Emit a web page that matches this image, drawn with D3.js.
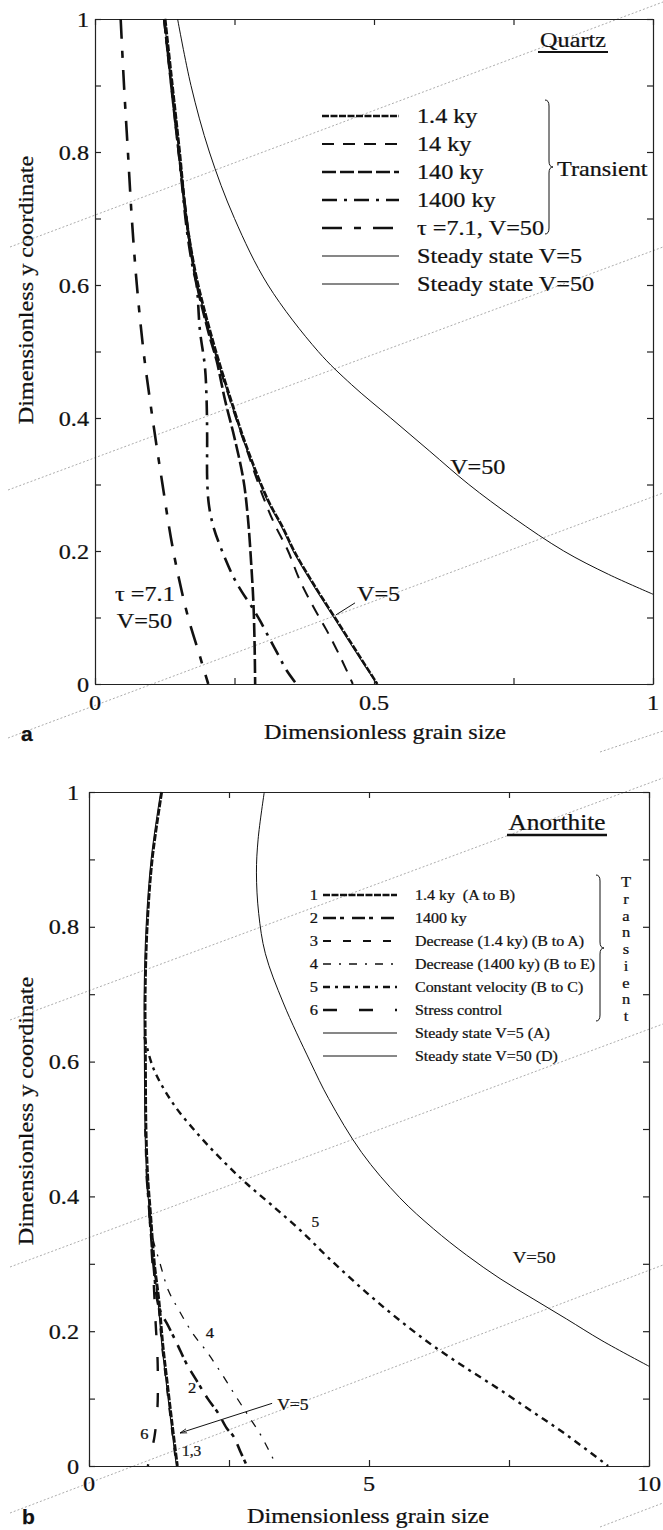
<!DOCTYPE html>
<html>
<head>
<meta charset="utf-8">
<script src="https://cdn.jsdelivr.net/npm/d3@7"></script>
<style>
  html, body { margin: 0; padding: 0; background: #fff; }
  svg { display: block; }
  text { font-family: "Liberation Serif", "Times New Roman", serif; fill: #111; stroke: #111; stroke-width: 0.25; white-space: pre; }
</style>
</head>
<body>
<svg id="chart" width="663" height="1530"></svg>
<script>
// ---- data: panel a (Quartz), points are [grain size, y coordinate] ----
const quartzSteadyV5 = [[0.124,1],[0.137,0.9],[0.150,0.8],[0.162,0.7],[0.178,0.62],[0.192,0.57],[0.215,0.5],[0.242,0.427],[0.272,0.352],[0.308,0.277],[0.335,0.235],[0.355,0.2],[0.390,0.15],[0.428,0.1],[0.466,0.05],[0.505,0]];
const quartzSteadyV50 = [[0.148,1],[0.172,0.9],[0.205,0.8],[0.25,0.7],[0.31,0.6],[0.40,0.5],[0.46,0.45],[0.53,0.4],[0.60,0.35],[0.67,0.3],[0.75,0.25],[0.84,0.2],[0.92,0.165],[1.0,0.135]];
const quartz1p4ky = [[0.126,1],[0.139,0.9],[0.152,0.8],[0.164,0.7],[0.180,0.62],[0.194,0.57],[0.217,0.5],[0.244,0.427],[0.274,0.352],[0.310,0.277],[0.337,0.235],[0.357,0.2],[0.392,0.15],[0.430,0.1],[0.468,0.05],[0.506,0]];
const quartz14ky = [[0.124,1],[0.150,0.8],[0.178,0.62],[0.215,0.5],[0.242,0.427],[0.272,0.352],[0.302,0.28],[0.322,0.24],[0.346,0.2],[0.367,0.156],[0.392,0.115],[0.415,0.081],[0.44,0.04],[0.462,0]];
const quartz140ky = [[0.124,1],[0.150,0.8],[0.178,0.62],[0.203,0.53],[0.218,0.486],[0.233,0.427],[0.250,0.37],[0.266,0.307],[0.274,0.25],[0.280,0.18],[0.284,0.12],[0.286,0.06],[0.287,0]];
const quartz1400ky = [[0.124,1],[0.150,0.8],[0.165,0.68],[0.175,0.627],[0.182,0.6],[0.188,0.532],[0.197,0.477],[0.200,0.427],[0.201,0.37],[0.201,0.31],[0.204,0.27],[0.212,0.237],[0.224,0.208],[0.248,0.161],[0.263,0.139],[0.281,0.116],[0.296,0.095],[0.311,0.071],[0.327,0.046],[0.343,0.021],[0.361,0]];
const quartzTau = [[0.046,1],[0.052,0.9],[0.059,0.8],[0.066,0.7],[0.075,0.6],[0.087,0.5],[0.098,0.43],[0.110,0.36],[0.121,0.3],[0.136,0.22],[0.150,0.16],[0.167,0.1],[0.185,0.05],[0.203,0]];

const quartzLegend = ["1.4 ky", "14 ky", "140 ky", "1400 ky", "\u03c4 =7.1, V=50", "Steady state V=5", "Steady state V=50"];

// ---- data: panel b (Anorthite) ----
const anorthiteSteadyV5 = [[1.28,1],[1.11,0.9],[1.02,0.8],[0.985,0.7],[0.99,0.6],[1.0,0.5],[1.03,0.43],[1.08,0.375],[1.15,0.3],[1.23,0.246],[1.30,0.18],[1.38,0.123],[1.47,0.06],[1.56,0]];
const anorthiteSteadyV50 = [[3.13,1],[3.02,0.93],[2.99,0.88],[3.03,0.82],[3.15,0.76],[3.47,0.687],[3.95,0.6],[4.28,0.545],[4.87,0.465],[5.55,0.398],[6.15,0.352],[6.74,0.313],[7.34,0.278],[7.93,0.248],[8.53,0.218],[9.16,0.186],[10,0.148]];
const anorthite1p4ky = [[1.30,1],[1.13,0.9],[1.04,0.8],[1.005,0.7],[1.01,0.6],[1.02,0.5],[1.05,0.43],[1.10,0.375],[1.17,0.3],[1.25,0.246],[1.32,0.18],[1.40,0.123],[1.49,0.06],[1.58,0]];
const anorthite1400ky = [[1.03,0.43],[1.08,0.375],[1.15,0.3],[1.25,0.235],[1.42,0.207],[1.58,0.18],[1.74,0.152],[1.92,0.127],[2.12,0.1],[2.31,0.078],[2.46,0.056],[2.58,0.044],[2.7,0.022],[2.82,0]];
const anorthiteDecrease1p4 = [[1.0,0.5],[1.03,0.43],[1.08,0.375],[1.15,0.3],[1.23,0.246],[1.30,0.18],[1.38,0.123],[1.47,0.06],[1.56,0]];
const anorthiteDecrease1400 = [[1.08,0.375],[1.12,0.345],[1.27,0.30],[1.42,0.26],[1.6,0.232],[1.85,0.197],[2.1,0.17],[2.36,0.138],[2.61,0.105],[2.85,0.074],[3.08,0.044],[3.35,0]];
const anorthiteConstVelocity = [[0.99,0.637],[1.15,0.59],[1.5,0.538],[1.98,0.489],[2.4,0.452],[2.8,0.42],[3.25,0.388],[3.77,0.35],[4.3,0.307],[4.96,0.257],[5.55,0.216],[6.15,0.178],[6.74,0.145],[7.34,0.113],[7.93,0.080],[8.53,0.046],[9.27,0]];
const anorthiteStress = [[1.08,0.375],[1.11,0.33],[1.15,0.28],[1.19,0.212],[1.22,0.168],[1.23,0.128],[1.22,0.083],[1.17,0.044],[1.11,0.02],[1.05,0]];

const anorthiteLegend = ["1.4 ky  (A to B)", "1400 ky", "Decrease (1.4 ky) (B to A)", "Decrease (1400 ky) (B to E)", "Constant velocity (B to C)", "Stress control", "Steady state V=5 (A)", "Steady state V=50 (D)"];
const anorthiteLegendNums = ["1", "2", "3", "4", "5", "6", "", ""];

// ---- ticks ----
const yTicks = [0, 0.1, 0.2, 0.3, 0.4, 0.5, 0.6, 0.7, 0.8, 0.9, 1];
const yTickLabels = [0, 0.2, 0.4, 0.6, 0.8, 1];
const quartzXTicks = [0, 0.25, 0.5, 0.75, 1];
const quartzXLabels = [0, 0.5, 1];
const anorthiteXTicks = [0, 2.5, 5, 7.5, 10];
const anorthiteXLabels = [0, 5, 10];

// line styles (dash pattern, width)
const quartzStyles = [
  { dash: "7,1.5", w: 2.4 },
  { dash: "12,9", w: 2 },
  { dash: "14,4", w: 2.6 },
  { dash: "15,7,3,7", w: 2.6 },
  { dash: "20,12,7,12", w: 2.6 },
  { dash: null, w: 1.1 },
  { dash: null, w: 1 }
];
const anorthiteStyles = [
  { dash: "7,1.5", w: 2.6 },
  { dash: "13,4,4,8", w: 2.6 },
  { dash: "8,12", w: 1.8 },
  { dash: "8,8,2,8", w: 1.3 },
  { dash: "7,5,3,5", w: 2.4 },
  { dash: "14,22", w: 2.4 },
  { dash: null, w: 1.1 },
  { dash: null, w: 1 }
];

const SX = 1.1; // the scan is a bit wider than tall
const svg = d3.select("#chart");

// faint dotted scan lines across the page
const scanLines = [
  [10, 247, 663, 2], [8, 490, 663, 247], [8, 738, 663, 493], [600, 752, 663, 731],
  [10, 1020, 663, 778], [10, 1267, 663, 1024], [10, 1513, 663, 1265], [600, 1527, 663, 1503]
];

function label(g, x, y, str, size, anchor) {
  return g.append("text")
    .attr("transform", `translate(${x},${y}) scale(${SX},1)`)
    .attr("text-anchor", anchor || "start")
    .style("font-size", size + "px")
    .text(str);
}

function frame(g, x, y, xTicks) {
  const [y0, y1] = y.range();
  const [x0, x1] = x.range();
  g.append("g").attr("transform", `translate(0,${y0})`)
    .call(d3.axisBottom(x).tickValues(xTicks).tickSize(-6).tickSizeOuter(0).tickFormat(""));
  g.append("g").attr("transform", `translate(0,${y1})`)
    .call(d3.axisTop(x).tickValues(xTicks).tickSize(-6).tickSizeOuter(0).tickFormat(""));
  g.append("g").attr("transform", `translate(${x0},0)`)
    .call(d3.axisLeft(y).tickValues(yTicks).tickSize(-6).tickSizeOuter(0).tickFormat(""));
  g.append("g").attr("transform", `translate(${x1},0)`)
    .call(d3.axisRight(y).tickValues(yTicks).tickSize(-6).tickSizeOuter(0).tickFormat(""));
  g.selectAll(".domain, .tick line").attr("stroke", "#222").attr("stroke-width", 1.2);
}

function curve(g, x, y, data, st) {
  const line = d3.line()
    .x(d => x(d[0]))
    .y(d => y(d[1]))
    .curve(d3.curveCatmullRom.alpha(0.5));
  g.append("path")
    .datum(data)
    .attr("d", line)
    .attr("fill", "none")
    .attr("stroke", "#111")
    .attr("stroke-width", st.w)
    .attr("stroke-dasharray", st.dash);
}

function brace(g, x, y0, y1, w) {
  const m = (y0 + y1) / 2, h = w * 0.5;
  g.append("path")
    .attr("d", `M${x},${y0} q${h},0 ${h},6 L${x + h},${m - 6} q0,6 ${h},6 q${-h},0 ${-h},6 L${x + h},${y1 - 6} q0,6 ${-h},6`)
    .attr("fill", "none").attr("stroke", "#111").attr("stroke-width", 1);
}

svg.append("g").selectAll("line")
  .data(scanLines)
  .join("line")
  .attr("x1", d => d[0]).attr("y1", d => d[1])
  .attr("x2", d => d[2]).attr("y2", d => d[3])
  .attr("stroke", "#888").attr("stroke-width", 0.7).attr("stroke-dasharray", "2,2");

svg.append("defs").append("marker")
  .attr("id", "arrow").attr("viewBox", "0 0 10 10").attr("refX", 10).attr("refY", 5)
  .attr("markerWidth", 7).attr("markerHeight", 7).attr("orient", "auto")
  .append("path").attr("d", "M0,2 L10,5 L0,8").attr("fill", "none").attr("stroke", "#111").attr("stroke-width", 1.2);

// ================= panel a: Quartz =================
{
  const g = svg.append("g");
  const x = d3.scaleLinear([0, 1], [95, 653]);
  const y = d3.scaleLinear([0, 1], [684, 19]);
  frame(g, x, y, quartzXTicks);

  const series = [quartz1p4ky, quartz14ky, quartz140ky, quartz1400ky, quartzTau, quartzSteadyV5, quartzSteadyV50];
  series.forEach((s, i) => curve(g, x, y, s, quartzStyles[i]));

  quartzXLabels.forEach(v => label(g, x(v), 710, String(v), 22, "middle"));
  yTickLabels.forEach(v => label(g, 89, y(v) + 7.5, String(v), 22, "end"));

  label(g, 385, 739, "Dimensionless grain size", 22, "middle");
  g.append("text")
    .attr("transform", `translate(33,290) rotate(-90) scale(${SX},1)`)
    .attr("text-anchor", "middle").style("font-size", "22px")
    .text("Dimensionless y coordinate");

  g.append("text").attr("x", 21).attr("y", 741)
    .style("font-family", "'Liberation Sans', Arial, sans-serif")
    .style("font-weight", "bold").style("font-size", "21px").text("a");

  label(g, 573, 47, "Quartz", 22, "middle");
  g.append("line").attr("x1", 538).attr("x2", 608).attr("y1", 52).attr("y2", 52)
    .attr("stroke", "#111").attr("stroke-width", 2);

  quartzLegend.forEach((t, i) => {
    const ly = 116 + 28 * i;
    g.append("line").attr("x1", 322).attr("x2", 399).attr("y1", ly).attr("y2", ly)
      .attr("stroke", "#111").attr("stroke-width", quartzStyles[i].w)
      .attr("stroke-dasharray", quartzStyles[i].dash);
    label(g, 417, ly + 7, t, 22);
  });
  brace(g, 545, 100, 234, 8);
  label(g, 557, 176, "Transient", 22);

  // curve annotations
  label(g, x(0.686), y(0.316), "V=50", 22, "middle");
  label(g, x(0.4695), y(0.125), "V=5", 22);
  g.append("line").attr("x1", x(0.466)).attr("y1", y(0.122)).attr("x2", x(0.432)).attr("y2", y(0.104))
    .attr("stroke", "#111").attr("stroke-width", 1);
  label(g, x(0.036), y(0.125), "\u03c4 =7.1", 22);
  label(g, x(0.039), y(0.084), "V=50", 22);
}

// ================= panel b: Anorthite =================
{
  const g = svg.append("g");
  const x = d3.scaleLinear([0, 10], [89, 649]);
  const y = d3.scaleLinear([0, 1], [1466, 792]);
  frame(g, x, y, anorthiteXTicks);

  const series = [anorthite1p4ky, anorthite1400ky, anorthiteDecrease1p4, anorthiteDecrease1400,
    anorthiteConstVelocity, anorthiteStress, anorthiteSteadyV5, anorthiteSteadyV50];
  series.forEach((s, i) => curve(g, x, y, s, anorthiteStyles[i]));

  anorthiteXLabels.forEach(v => label(g, x(v), 1491, String(v), 22, "middle"));
  yTickLabels.forEach(v => label(g, 79, y(v) + 7.5, String(v), 22, "end"));

  label(g, 368, 1523, "Dimensionless grain size", 22, "middle");
  g.append("text")
    .attr("transform", `translate(33,1111) rotate(-90) scale(${SX},1)`)
    .attr("text-anchor", "middle").style("font-size", "22px")
    .text("Dimensionless y coordinate");

  g.append("text").attr("x", 22).attr("y", 1524)
    .style("font-family", "'Liberation Sans', Arial, sans-serif")
    .style("font-weight", "bold").style("font-size", "21px").text("b");

  label(g, 557, 830, "Anorthite", 23, "middle");
  g.append("line").attr("x1", 507).attr("x2", 607).attr("y1", 835).attr("y2", 835)
    .attr("stroke", "#111").attr("stroke-width", 2.5);

  anorthiteLegend.forEach((t, i) => {
    const ly = 895 + 23 * i;
    g.append("line").attr("x1", 323).attr("x2", 397).attr("y1", ly).attr("y2", ly)
      .attr("stroke", "#111").attr("stroke-width", anorthiteStyles[i].w)
      .attr("stroke-dasharray", anorthiteStyles[i].dash);
    if (anorthiteLegendNums[i]) label(g, 318, ly + 5, anorthiteLegendNums[i], 15, "end");
    label(g, 415, ly + 5, t, 14.5);
  });
  brace(g, 596, 875, 1021, 8);
  "Transient".split("").forEach((c, i) => label(g, 626, 887 + 16.75 * i, c, 15, "middle"));

  // curve annotations
  label(g, x(4.04), y(0.355), "5", 14, "middle");
  label(g, x(2.16), y(0.19), "4", 15, "middle");
  label(g, x(1.84), y(0.108), "2", 15, "middle");
  label(g, x(0.99), y(0.04), "6", 15, "middle");
  label(g, x(1.66), y(0.015), "1,3", 14);
  label(g, x(3.36), y(0.083), "V=5", 16);
  g.append("line").attr("x1", x(3.27)).attr("y1", y(0.093)).attr("x2", x(1.625)).attr("y2", y(0.049))
    .attr("stroke", "#111").attr("stroke-width", 1).attr("marker-end", "url(#arrow)");
  label(g, x(7.95), y(0.301), "V=50", 17, "middle");
}
</script>
</body>
</html>
